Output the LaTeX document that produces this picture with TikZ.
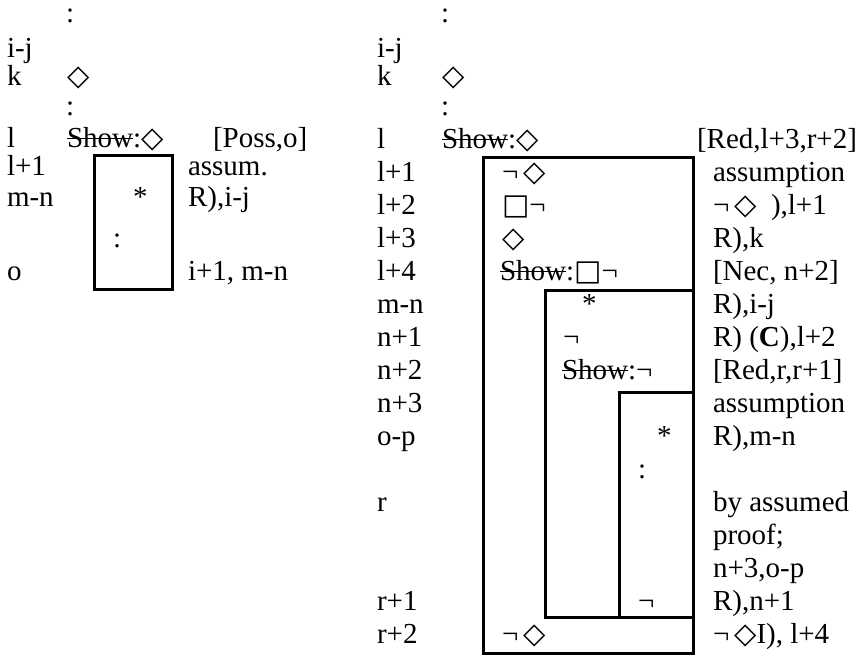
\documentclass[tikz,border=0pt]{standalone}
\usepackage{fontspec}
\setmainfont{Liberation Serif}
\newfontfamily\symfont{DejaVu Sans}
\newcommand{\dia}{{\symfont ◇}}
\newcommand{\sqr}{{\symfont □}}
\newcommand{\strk}[1]{\sbox0{#1}\rlap{\rule[0.26em]{\wd0}{1pt}}\usebox0}

\begin{document}
\begin{tikzpicture}[
  x=1pt, y=-1pt,
  font=\fontsize{29}{33}\selectfont,
  txt/.style={anchor=base west, inner sep=0pt, outer sep=0pt},
  frame/.style={draw=black, line width=3pt},
]
\useasboundingbox (0,0) rectangle (858,656);
\def\ry{33}
\def\ly{148}

% ---- left derivation ----
\node[txt] (lsep1) at (66,22)  {:};
\node[txt] (lij)   at (7,57)   {i-j};
\node[txt] (lk)    at (7,85)   {k};
\node[txt] (lkdia) at (67,85)  {\dia};
\node[txt] (lsep2) at (66,115) {:};
\node[txt] (ll)    at (7,147)  {l};
\node[txt] (lshow) at (67,147) {\strk{Show}:\dia};
\node[txt] (lposs) at (213,147) {[Poss,o]};
\node[txt] (ll1)   at (7,175)  {l+1};
\node[txt] (lasm)  at (188,175) {assum.};
\node[txt] (lmn)   at (7,206)  {m-n};
\node[txt] (lstar) at (133,206) {*};
\node[txt] (lrij)  at (188,206) {R),i-j};
\node[txt] (lsep3) at (113,247) {:};
\node[txt] (lo)    at (7,280)  {o};
\node[txt] (lcite) at (188,280) {i+1, m-n};

\draw[frame] (94,155) rectangle (172,289);

% ---- right derivation: head ----
\node[txt] (rsep1) at (441,22)  {:};
\node[txt] (rij)   at (377,57)  {i-j};
\node[txt] (rk)    at (377,85)  {k};
\node[txt] (rkdia) at (442,85)  {\dia};
\node[txt] (rsep2) at (441,115) {:};
\node[txt] (rl)    at (377,\ly) {l};
\node[txt] (rshow) at (442,\ly) {\strk{Show}:\dia};
\node[txt] (rred)  at (697,\ly) {[Red,l+3,r+2]};

% ---- right derivation: line numbers ----
\foreach \n/\t in {1/l+1,2/l+2,3/l+3,4/l+4,5/m-n,6/n+1,7/n+2,8/n+3,9/o-p,11/r,14/r+1,15/r+2}{
  \node[txt] (rlab\n) at (377,\ly+\n*\ry) {\t};
}

% ---- right derivation: lines ----
\node[txt] (rln1)  at (502,\ly+\ry)    {¬\,\dia};
\node[txt] (rln2)  at (502,\ly+2*\ry)  {\sqr¬};
\node[txt] (rln3)  at (502,\ly+3*\ry)  {\dia};
\node[txt] (rln4)  at (500,\ly+4*\ry)  {\strk{Show}:\sqr¬};
\node[txt] (rln5)  at (582,\ly+5*\ry)  {*};
\node[txt] (rln6)  at (563,\ly+6*\ry)  {¬};
\node[txt] (rln7)  at (562,\ly+7*\ry)  {\strk{Show}:¬};
\node[txt] (rln9)  at (657,\ly+9*\ry)  {*};
\node[txt] (rln10) at (638,\ly+10*\ry) {:};
\node[txt] (rln14) at (638,\ly+14*\ry) {¬};
\node[txt] (rln15) at (502,\ly+15*\ry) {¬\,\dia};

% ---- right derivation: justifications ----
\node[txt] (rjs1)  at (713,\ly+\ry)    {assumption};
\node[txt] (rjs2)  at (713,\ly+2*\ry)  {¬\,\dia\ \ ),l+1};
\node[txt] (rjs3)  at (713,\ly+3*\ry)  {R),k};
\node[txt] (rjs4)  at (713,\ly+4*\ry)  {[Nec, n+2]};
\node[txt] (rjs5)  at (713,\ly+5*\ry)  {R),i-j};
\node[txt] (rjs6)  at (713,\ly+6*\ry)  {R) (\textbf{C}),l+2};
\node[txt] (rjs7)  at (713,\ly+7*\ry)  {[Red,r,r+1]};
\node[txt] (rjs8)  at (713,\ly+8*\ry)  {assumption};
\node[txt] (rjs9)  at (713,\ly+9*\ry)  {R),m-n};
\node[txt] (rjs11) at (713,\ly+11*\ry) {by assumed};
\node[txt] (rjs12) at (713,\ly+12*\ry) {proof;};
\node[txt] (rjs13) at (713,\ly+13*\ry) {n+3,o-p};
\node[txt] (rjs14) at (713,\ly+14*\ry) {R),n+1};
\node[txt] (rjs15) at (713,\ly+15*\ry) {¬\,\dia I), l+4};

% ---- subproof boxes ----
\draw[frame] (483,157) rectangle (693,653);
\draw[frame] (545,290) rectangle (693,617);
\draw[frame] (619,392) rectangle (693,617);
\end{tikzpicture}
\end{document}
